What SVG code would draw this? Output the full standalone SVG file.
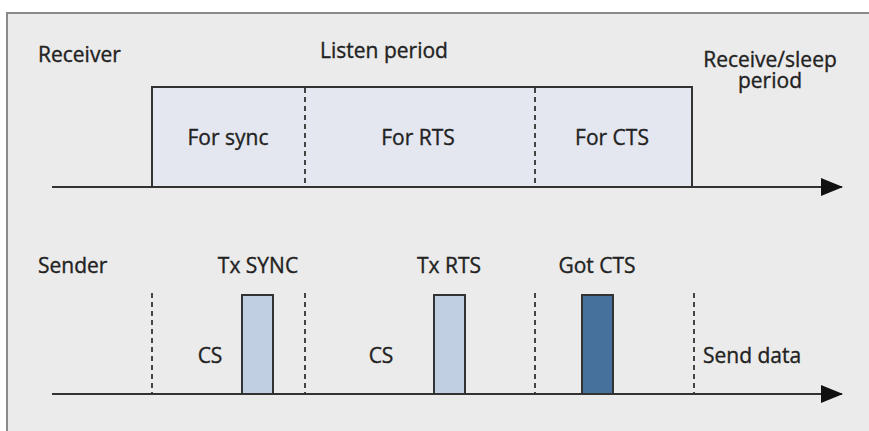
<svg xmlns="http://www.w3.org/2000/svg" width="869" height="431" viewBox="0 0 869 431">
<style>
text{font-family:"Open Sans","Noto Sans","Liberation Sans",sans-serif;font-size:21px;fill:#222;stroke:#222;stroke-width:0.35}
.ax{stroke:#333;stroke-width:2.2;fill:none}
.dash{stroke:#444;stroke-width:2;stroke-dasharray:5,4;fill:none}
.bar{stroke:#333;stroke-width:2}
</style>
<defs>
<marker id="ah" markerWidth="22" markerHeight="18" refX="21" refY="9" orient="auto" markerUnits="userSpaceOnUse">
<path d="M0,0 L22,9 L0,18 Z" fill="#111"/>
</marker>
</defs>
<rect x="0" y="0" width="869" height="431" fill="#ffffff"/>
<rect x="7" y="13" width="870" height="430" fill="#ebebeb" stroke="#8a8a8a" stroke-width="2"/>

<g id="receiver-label"><text x="38" y="62">Receiver</text></g>
<g id="listen-label"><text x="384" y="58" text-anchor="middle">Listen period</text></g>
<g id="sleep-label"><text text-anchor="middle"><tspan x="770" y="67">Receive/sleep</tspan><tspan x="770" y="88">period</tspan></text></g>

<g id="listen-box">
<rect x="152" y="87" width="540" height="100" fill="#e4e7f0" stroke="#333" stroke-width="2"/>
</g>
<g id="for-sync"><text x="228" y="145" text-anchor="middle">For sync</text></g>
<g id="for-rts"><text x="418" y="145" text-anchor="middle">For RTS</text></g>
<g id="for-cts"><text x="612" y="145" text-anchor="middle">For CTS</text></g>

<g id="sender-label"><text x="38" y="273">Sender</text></g>
<g id="tx-sync-label"><text x="258" y="273" text-anchor="middle">Tx SYNC</text></g>
<g id="tx-rts-label"><text x="449" y="273" text-anchor="middle">Tx RTS</text></g>
<g id="got-cts-label"><text x="597" y="273" text-anchor="middle">Got CTS</text></g>
<g id="cs1"><text x="210" y="363" text-anchor="middle">CS</text></g>
<g id="cs2"><text x="381" y="363" text-anchor="middle">CS</text></g>
<g id="send-data"><text x="703" y="363">Send data</text></g>

<g id="tx-sync-bar"><rect class="bar" x="242" y="295" width="31" height="99" fill="#c0d0e2"/></g>
<g id="tx-rts-bar"><rect class="bar" x="434" y="295" width="31" height="99" fill="#c0d0e2"/></g>
<g id="got-cts-bar"><rect class="bar" x="582" y="295" width="31" height="99" fill="#46719d"/></g>

<g id="connectors">
<line class="dash" x1="305" y1="88" x2="305" y2="186"/>
<line class="dash" x1="535" y1="88" x2="535" y2="186"/>
<line class="dash" x1="152" y1="293" x2="152" y2="394"/>
<line class="dash" x1="305" y1="293" x2="305" y2="394"/>
<line class="dash" x1="535" y1="293" x2="535" y2="394"/>
<line class="dash" x1="694" y1="293" x2="694" y2="394"/>
<line class="ax" x1="52" y1="187" x2="842" y2="187" marker-end="url(#ah)"/>
<line class="ax" x1="52" y1="394" x2="842" y2="394" marker-end="url(#ah)"/>
</g>
</svg>
